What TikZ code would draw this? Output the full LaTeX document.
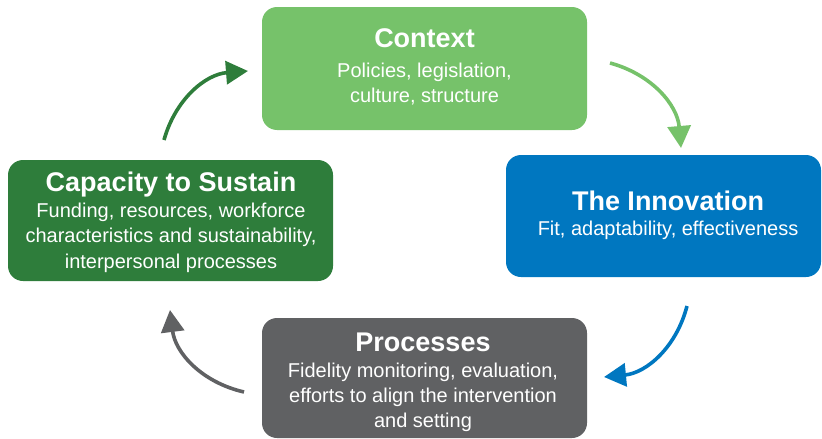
\documentclass[tikz,border=0pt]{standalone}
\usepackage{fontspec}
\setmainfont{Liberation Sans}
\usetikzlibrary{arrows.meta}
\definecolor{lgreen}{HTML}{76C26A}
\definecolor{dgreen}{HTML}{2E7D3B}
\definecolor{iblue}{HTML}{0077C0}
\definecolor{pgray}{HTML}{606163}
\tikzset{
  ttl/.style={font=\fontsize{27}{30}\selectfont\bfseries, text=white, inner sep=0pt, anchor=base},
  body/.style={font=\fontsize{20}{24}\selectfont, text=white, inner sep=0pt, anchor=base},
  cyc/.style={line width=3.6pt, -{Triangle[length=22pt,width=23pt]}, bend left=35}
}
\begin{document}
\begin{tikzpicture}[x=1pt,y=-1pt]
\useasboundingbox (0,0) rectangle (822,439);
% boxes
\fill[lgreen, rounded corners=15pt] (262,7) rectangle (587,130);
\fill[iblue, rounded corners=15pt] (506,155) rectangle (821,277);
\fill[pgray, rounded corners=15pt] (262,318) rectangle (587,438);
\fill[dgreen, rounded corners=15pt] (8,160) rectangle (333,281);
% Context
\node[ttl] (ctx) at (424.5,47) {Context};
\node[body] (ctx1) at (424.5,77) {Policies, legislation,};
\node[body] (ctx2) at (424.5,102) {culture, structure};
% Innovation
\node[ttl] (inn) at (668,210) {The Innovation};
\node[body] (inn1) at (668,235) {Fit, adaptability, effectiveness};
% Processes
\node[ttl] (pro) at (423,351) {Processes};
\node[body] (pro1) at (423,377) {Fidelity monitoring, evaluation,};
\node[body] (pro2) at (423,402) {efforts to align the intervention};
\node[body] (pro3) at (423,427) {and setting};
% Capacity
\node[ttl] (cap) at (171,191) {Capacity to Sustain};
\node[body] (cap1) at (171,217) {Funding, resources, workforce};
\node[body] (cap2) at (171,242) {characteristics and sustainability,};
\node[body] (cap3) at (171,268) {interpersonal processes};
% arrow ends
\coordinate (a1s) at (164,140); \coordinate (a1e) at (248,71);
\coordinate (a2s) at (610,63);  \coordinate (a2e) at (681,148);
\coordinate (a3s) at (687,306); \coordinate (a3e) at (604,377);
\coordinate (a4s) at (244,392); \coordinate (a4e) at (170,310);
\draw[cyc, dgreen] (a1s) to (a1e);
\draw[cyc, lgreen] (a2s) to (a2e);
\draw[cyc, iblue] (a3s) to (a3e);
\draw[cyc, pgray] (a4s) to (a4e);
\end{tikzpicture}
\end{document}
